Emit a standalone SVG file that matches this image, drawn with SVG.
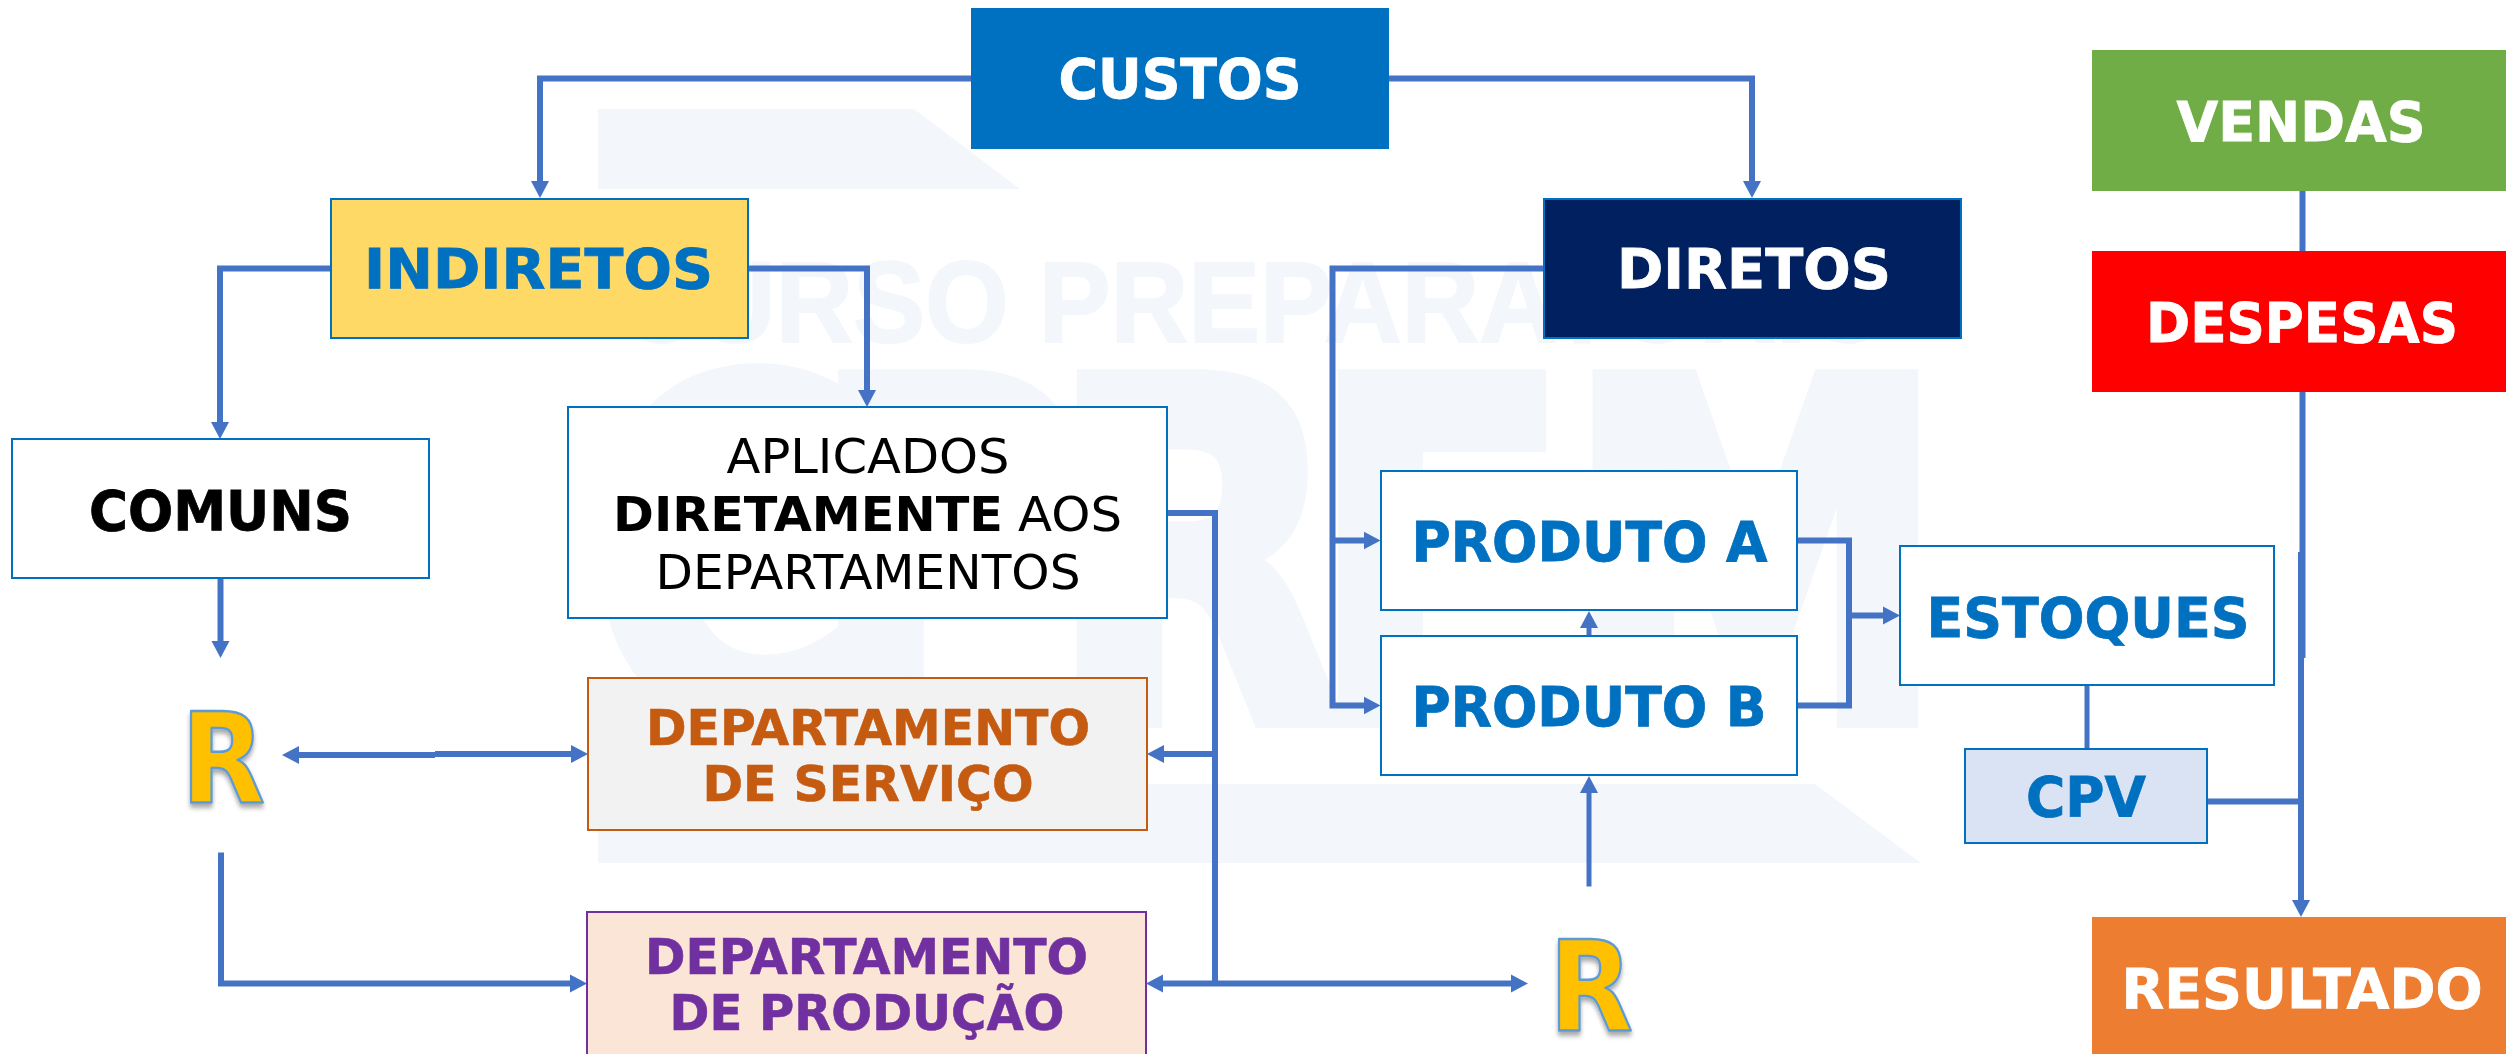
<svg xmlns="http://www.w3.org/2000/svg" width="2506" height="1054" viewBox="0 0 2506 1054">
<style>
.wm{fill:#F3F6FB;stroke:none}
.wmt{font-family:"Liberation Sans",Arial,sans-serif;font-weight:700;fill:#F3F6FB;stroke:#F3F6FB;stroke-width:2}
.wmb{font-family:"DejaVu Sans",sans-serif;font-weight:700;font-size:470px;fill:#F3F6FB;stroke:#F3F6FB;stroke-width:16;text-anchor:start}
.c{fill:none;stroke:#4472C4;stroke-width:6;stroke-linejoin:miter}
.a{marker-end:url(#h)}
.b{stroke:#0070C0;stroke-width:2}
text{text-anchor:middle}
.t{font-family:"DejaVu Sans",Verdana,sans-serif;font-weight:700;font-size:55px;stroke-width:.8}
.t2{font-family:"DejaVu Sans",Verdana,sans-serif;font-weight:700;font-size:49px;stroke-width:.6}
.n{font-family:"DejaVu Sans",Verdana,sans-serif;font-size:48px;fill:#000}
.r{font-family:"DejaVu Sans",sans-serif;font-weight:700;font-size:124px;fill:#FFC000;stroke:#5B9BD5;stroke-width:2.500;stroke-linejoin:round;filter:url(#s)}
.w{fill:#fff;stroke:#fff}.bl{fill:#0070C0;stroke:#0070C0}.k{fill:#000;stroke:#000}.o{fill:#C55A11;stroke:#C55A11}.p{fill:#7030A0;stroke:#7030A0}
</style>
<defs>
<marker id="h" markerUnits="userSpaceOnUse" markerWidth="19" markerHeight="19" refX="1" refY="9.500" orient="auto-start-reverse"><path d="M0 0.500L17 9.500L0 18.500Z" fill="#4472C4"/></marker>
<filter id="s" x="-20%" y="-20%" width="140%" height="140%"><feDropShadow dx="0" dy="4" stdDeviation="2.500" flood-color="#000" flood-opacity="0.35"/></filter>
</defs>
<rect width="2506" height="1054" fill="#fff"/>
<g id="watermark">
<polygon class="wm" points="598,109 914,109 1020,189 598,189"/>
<polygon class="wm" points="598,784 1815,784 1921,863 598,863"/>
<text class="wmt" x="1255" y="342" font-size="115" textLength="1270" lengthAdjust="spacingAndGlyphs">CURSO PREPARATÓRIO</text>
<text class="wmb" transform="translate(0,720) scale(.82,1)" x="716 987 1278 1596 1907" y="0">CPREM</text>
</g>
<g id="connectors">
<path class="c a" d="M971 78.500H540V182"/>
<path class="c a" d="M1389 78.500H1752V182"/>
<path class="c a" d="M331 268.500H220V423"/>
<path class="c a" d="M748 268.500H867V391"/>
<path class="c a" d="M220.500 578V642"/>
<path class="c" d="M298 755H435" style="marker-start:url(#h)"/>
<path class="c a" d="M435 754H572"/>
<path class="c a" d="M221 852.500V983.500H571"/>
<path class="c" d="M1167 513H1215V983.500"/>
<path class="c a" d="M1215 754H1163"/>
<path class="c a" d="M1215 983.500H1162"/>
<path class="c a" d="M1215 983.500H1512"/>
<path class="c a" d="M1544 268.500H1332.500V705.500H1364.500"/>
<path class="c a" d="M1332.500 540.500H1364.500"/>
<path class="c a" d="M1589 636V627" style="stroke-width:5"/>
<path class="c a" d="M1589 886.500V792" style="stroke-width:5"/>
<path class="c" d="M1797 540.500H1849V705.500H1797"/>
<path class="c a" d="M1849 615.500H1884"/>
<path class="c" d="M2087 685V749" style="stroke-width:5"/>
<path class="c" d="M2207 801.500H2302"/>
<path class="c" d="M2302.500 190V251"/>
<path class="c" d="M2302.500 391V658"/>
<path class="c a" d="M2301 552V901"/>
</g>
<g id="custos"><rect x="971" y="8" width="418" height="141" fill="#0070C0"/><text class="t w" x="1180" y="98" textLength="243" lengthAdjust="spacingAndGlyphs">CUSTOS</text></g>
<g id="indiretos"><rect class="b" x="331" y="199" width="417" height="139" fill="#FFD966"/><text class="t bl" x="538.500" y="288" textLength="349" lengthAdjust="spacingAndGlyphs">INDIRETOS</text></g>
<g id="diretos"><rect class="b" x="1544" y="199" width="417" height="139" fill="#002060"/><text class="t w" x="1754" y="288" textLength="274" lengthAdjust="spacingAndGlyphs">DIRETOS</text></g>
<g id="comuns"><rect class="b" x="12" y="439" width="417" height="139" fill="#fff"/><text class="t k" x="220.500" y="530" textLength="263" lengthAdjust="spacingAndGlyphs">COMUNS</text></g>
<g id="aplicados"><rect class="b" x="568" y="407" width="599" height="211" fill="#fff"/>
<text class="n" x="868" y="473" textLength="283" lengthAdjust="spacingAndGlyphs">APLICADOS</text>
<text class="n" style="text-anchor:start" x="613" y="531" font-weight="700" textLength="390" lengthAdjust="spacingAndGlyphs">DIRETAMENTE</text>
<text class="n" style="text-anchor:start" x="1018" y="531" textLength="104" lengthAdjust="spacingAndGlyphs">AOS</text>
<text class="n" x="868" y="589" textLength="425" lengthAdjust="spacingAndGlyphs">DEPARTAMENTOS</text></g>
<g id="dep-servico"><rect x="588" y="678" width="559" height="152" fill="#F2F2F2" stroke="#C55A11" stroke-width="2"/>
<text class="t2 o" x="868" y="745" textLength="444" lengthAdjust="spacingAndGlyphs">DEPARTAMENTO</text><text class="t2 o" x="868" y="801" textLength="331" lengthAdjust="spacingAndGlyphs">DE SERVIÇO</text></g>
<g id="dep-producao"><rect x="587" y="912" width="559" height="150" fill="#FBE5D6" stroke="#7030A0" stroke-width="2"/>
<text class="t2 p" x="866.500" y="974" textLength="443" lengthAdjust="spacingAndGlyphs">DEPARTAMENTO</text><text class="t2 p" x="867" y="1030" textLength="395" lengthAdjust="spacingAndGlyphs">DE PRODUÇÃO</text></g>
<g id="produto-a"><rect class="b" x="1381" y="471" width="416" height="139" fill="#fff"/><text class="t bl" x="1589.500" y="561" textLength="356" lengthAdjust="spacingAndGlyphs">PRODUTO A</text></g>
<g id="produto-b"><rect class="b" x="1381" y="636" width="416" height="139" fill="#fff"/><text class="t bl" x="1589" y="726" textLength="355" lengthAdjust="spacingAndGlyphs">PRODUTO B</text></g>
<g id="estoques"><rect class="b" x="1900" y="546" width="374" height="139" fill="#fff"/><text class="t bl" x="2088" y="637" textLength="323" lengthAdjust="spacingAndGlyphs">ESTOQUES</text></g>
<g id="cpv"><rect class="b" x="1965" y="749" width="242" height="94" fill="#DAE3F3"/><text class="t bl" x="2086" y="816" textLength="120" lengthAdjust="spacingAndGlyphs">CPV</text></g>
<g id="vendas"><rect x="2092" y="50" width="414" height="141" fill="#70AD47"/><text class="t w" x="2301" y="141" textLength="249" lengthAdjust="spacingAndGlyphs">VENDAS</text></g>
<g id="despesas"><rect x="2092" y="251" width="414" height="141" fill="#FF0000"/><text class="t w" x="2302" y="342" textLength="312" lengthAdjust="spacingAndGlyphs">DESPESAS</text></g>
<g id="resultado"><rect x="2092" y="917" width="414" height="137" fill="#ED7D31"/><text class="t w" x="2302" y="1008" textLength="361" lengthAdjust="spacingAndGlyphs">RESULTADO</text></g>
<g id="r1"><text class="r" transform="translate(223,802) scale(.88,1)">R</text></g>
<g id="r2"><text class="r" transform="translate(1591,1030) scale(.88,1)">R</text></g>
</svg>
